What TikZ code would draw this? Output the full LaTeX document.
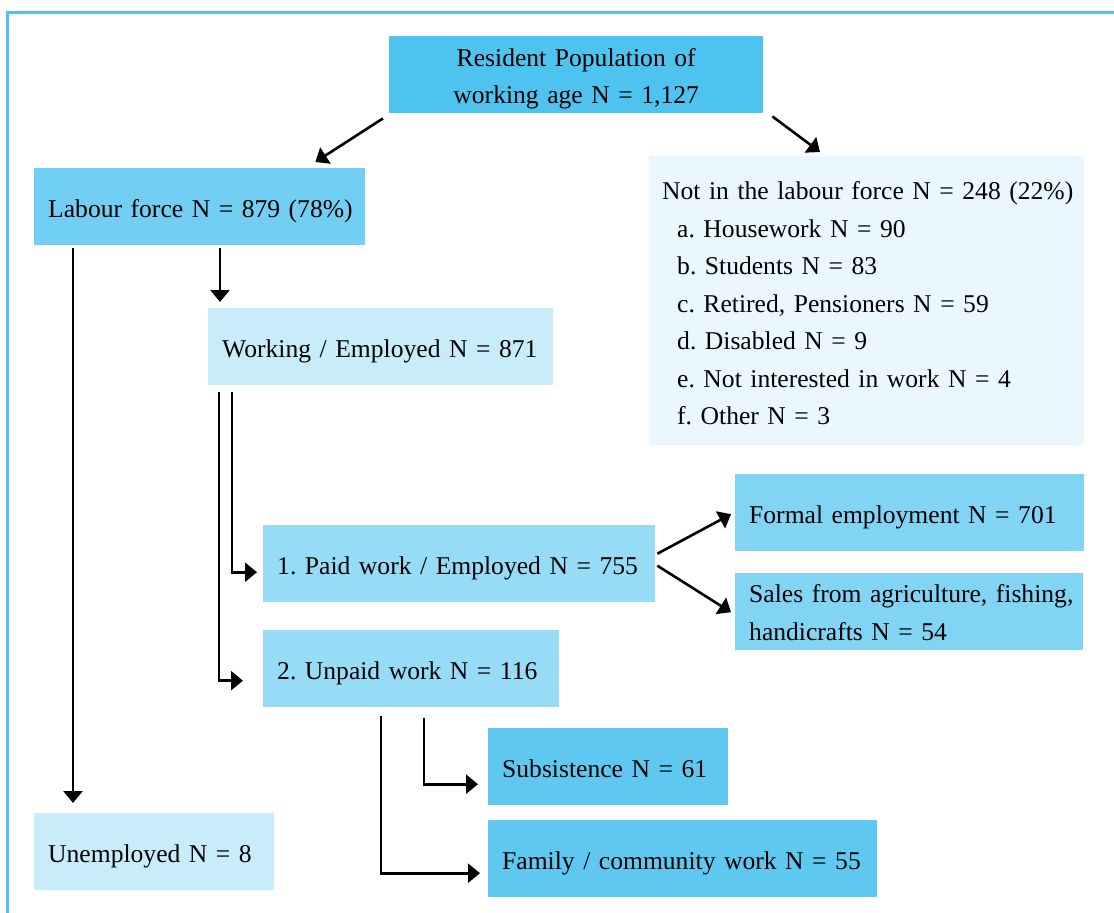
\documentclass[tikz,border=0pt]{standalone}
\usepackage{fontspec}
\setmainfont{Liberation Serif}
\usetikzlibrary{arrows.meta,calc}
\frenchspacing
\hbadness=10000 \hfuzz=50pt
\definecolor{framecol}{RGB}{77,195,240}
\definecolor{ctop}{RGB}{79,195,240}
\definecolor{clab}{RGB}{114,206,242}
\definecolor{cnot}{RGB}{235,247,254}
\definecolor{cwork}{RGB}{201,236,250}
\definecolor{cpaid}{RGB}{151,220,246}
\definecolor{cform}{RGB}{130,212,244}
\definecolor{csub}{RGB}{94,200,240}
\tikzset{
  box/.style={rectangle, anchor=north west, inner xsep=14pt, inner ysep=0pt,
    align=left, font=\fontsize{25.6}{37.5}\selectfont\frenchspacing},
  one/.style={text height=21pt, text depth=0pt},
  conn/.style={line width=2.6pt, -{Triangle[length=12pt,width=19pt]}},
}
\begin{document}
\begin{tikzpicture}[x=1pt,y=-1pt]
\useasboundingbox (0,0) rectangle (1114,913);
\fill[white] (0,0) rectangle (1114,913);
\draw[framecol, line width=3pt] (7.5,920) -- (7.5,12.5) -- (1120,12.5);

\node[box, fill=ctop, align=center, text width=346pt, minimum height=77pt] (top) at (389,36)
  {\mbox{\rule{0pt}{26pt}Resident Population of}\\\mbox{working age N = 1,127}};
\node[box, one, fill=clab, text width=303pt, minimum height=77pt] (labour) at (34,168)
  {\mbox{Labour force N = 879 (78\%)}};
\node[box, fill=cnot, inner xsep=13pt, text width=409pt, minimum height=289pt] (not) at (649,156)
  {\mbox{\rule{0pt}{23.5pt}Not in the labour force N = 248 (22\%)}\\
   \mbox{\hspace*{15pt}a. Housework N = 90}\\
   \mbox{\hspace*{15pt}b. Students N = 83}\\
   \mbox{\hspace*{15pt}c. Retired, Pensioners N = 59}\\
   \mbox{\hspace*{15pt}d. Disabled N = 9}\\
   \mbox{\hspace*{15pt}e. Not interested in work N = 4}\\
   \mbox{\hspace*{15pt}f. Other N = 3}};
\node[box, one, fill=cwork, text width=317pt, minimum height=77pt] (working) at (208,308)
  {\mbox{Working / Employed N = 871}};
\node[box, one, fill=cpaid, text width=364pt, minimum height=77pt] (paid) at (263,525)
  {\mbox{1. Paid work / Employed N = 755}};
\node[box, one, fill=cpaid, text width=268pt, minimum height=77pt] (unpaid) at (263,630)
  {\mbox{2. Unpaid work N = 116}};
\node[box, one, fill=cform, text width=321pt, minimum height=77pt] (formal) at (735,474)
  {\mbox{Formal employment N = 701}};
\node[box, fill=cform, text width=320pt, minimum height=77pt] (sales) at (735,573)
  {\mbox{\rule{0pt}{20pt}Sales from agriculture, fishing,}\\\mbox{handicrafts N = 54}};
\node[box, one, fill=csub, text width=212pt, minimum height=77pt] (subs) at (488,728)
  {\mbox{Subsistence N = 61}};
\node[box, one, fill=csub, text width=361pt, minimum height=77pt] (family) at (488,820)
  {\mbox{Family / community work N = 55}};
\node[box, one, fill=cwork, text width=212pt, minimum height=77pt] (unemp) at (34,813)
  {\mbox{Unemployed N = 8}};

\draw[conn] ($(top.south west)+(-6,5)$) -- ($(labour.north east)+(-50,-6)$);
\draw[conn] ($(top.south east)+(9,3)$) -- ($(not.north west)+(171,-4)$);
\draw[conn] ($(labour.south west)+(186,3)$) -- ($(working.north west)+(12,-6)$);
\draw[conn] ($(labour.south west)+(39,3)$) -- ($(unemp.north west)+(39,-10)$);
\draw[conn] ($(working.south west)+(24,7)$) |- ($(paid.west)+(-6,8.5)$);
\draw[conn] ($(working.south west)+(11,7)$) |- ($(unpaid.west)+(-20,12)$);
\draw[conn] ($(paid.east)+(2,-10)$) -- ($(formal.west)+(-4,1.5)$);
\draw[conn] ($(paid.east)+(2,2)$) -- ($(sales.west)+(-4,0.5)$);
\draw[conn] ($(unpaid.south west)+(161,11)$) |- ($(subs.west)+(-10,17.5)$);
\draw[conn] ($(unpaid.south west)+(118,9)$) |- ($(family.west)+(-8,14.5)$);
\end{tikzpicture}
\end{document}
